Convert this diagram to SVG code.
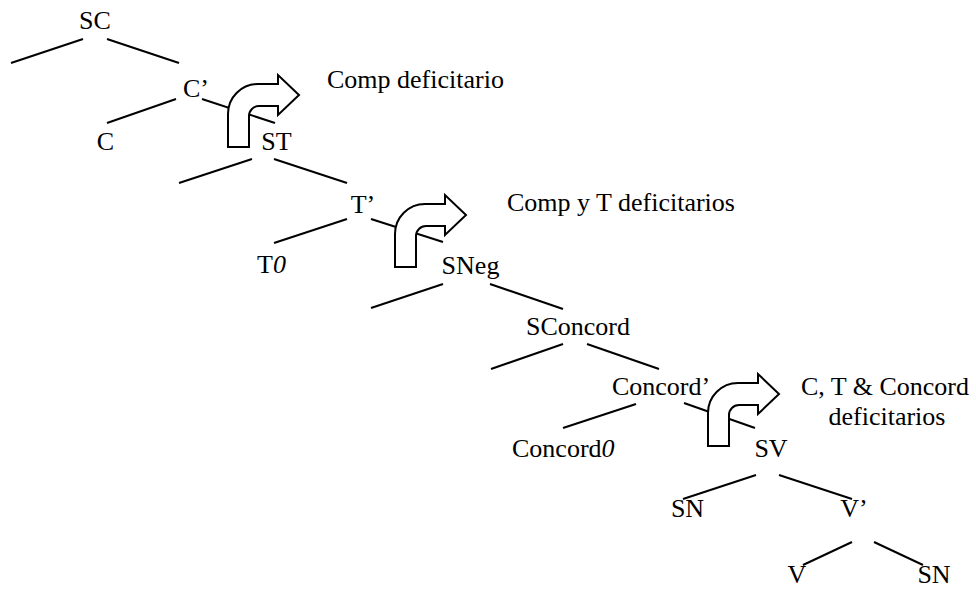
<svg xmlns="http://www.w3.org/2000/svg" width="976" height="590" viewBox="0 0 976 590">
<defs>
<style>
.t{font-family:"Liberation Serif","Times New Roman",serif;font-size:26px;fill:#000}
.m{text-anchor:middle}
.e{stroke:#000;stroke-width:2;fill:none}
.a{fill:#fff;stroke:#000;stroke-width:2;stroke-linejoin:miter}
</style>
<path id="bent" d="M0,0 L0,-33 A30,30 0 0 1 30,-63 L50,-63 L50,-72 L71,-52 L50,-32 L50,-41 L31,-41 A10,10 0 0 0 21,-31 L21,0 Z"/>
</defs>
<rect width="976" height="590" fill="#fff"/>
<g id="connectors" class="e">
<line x1="83" y1="39" x2="11" y2="63"/>
<line x1="107" y1="39" x2="179" y2="63"/>
<line x1="176" y1="99" x2="107" y2="123"/>
<line x1="202" y1="99" x2="275" y2="123"/>
<line x1="252" y1="159" x2="179" y2="183"/>
<line x1="274" y1="159" x2="347" y2="183"/>
<line x1="347" y1="219" x2="274" y2="243"/>
<line x1="371" y1="219" x2="443" y2="242"/>
<line x1="443" y1="284" x2="371" y2="308"/>
<line x1="490" y1="284" x2="563" y2="309"/>
<line x1="563" y1="344" x2="491" y2="369"/>
<line x1="587" y1="344" x2="659" y2="369"/>
<line x1="636" y1="404" x2="563" y2="428"/>
<line x1="684" y1="403" x2="755" y2="428"/>
<line x1="756" y1="475" x2="683" y2="499"/>
<line x1="779" y1="475" x2="852" y2="499"/>
<line x1="852" y1="542" x2="803" y2="565"/>
<line x1="874" y1="542" x2="923" y2="565"/>
</g>
<g id="arrow1"><use href="#bent" class="a" transform="translate(228,147)"/></g>
<g id="arrow2"><use href="#bent" class="a" transform="translate(395,267)"/></g>
<g id="arrow3"><use href="#bent" class="a" transform="translate(708,446)"/></g>
<g id="n-SC"><text class="t m" x="95" y="29">SC</text></g>
<g id="n-Cbar"><text class="t m" x="196" y="97">C’</text></g>
<g id="n-C"><text class="t m" x="105.5" y="150">C</text></g>
<g id="n-ST"><text class="t m" x="276.5" y="150">ST</text></g>
<g id="n-Tbar"><text class="t m" x="363" y="213">T’</text></g>
<g id="n-T0"><text class="t" x="257" y="273">T<tspan font-style="italic">0</tspan></text></g>
<g id="n-SNeg"><text class="t m" x="470.5" y="274">SNeg</text></g>
<g id="n-SConcord"><text class="t m" x="578" y="335">SConcord</text></g>
<g id="n-Concordbar"><text class="t m" x="661" y="395">Concord’</text></g>
<g id="n-Concord0"><text class="t" x="512" y="457">Concord<tspan font-style="italic">0</tspan></text></g>
<g id="n-SV"><text class="t m" x="771" y="457">SV</text></g>
<g id="n-SN1"><text class="t m" x="687.5" y="517">SN</text></g>
<g id="n-Vbar"><text class="t m" x="854" y="517">V’</text></g>
<g id="n-V"><text class="t m" x="797" y="583">V</text></g>
<g id="n-SN2"><text class="t m" x="934" y="583">SN</text></g>
<g id="label1"><text class="t" x="327" y="88">Comp deficitario</text></g>
<g id="label2"><text class="t" x="507" y="211">Comp y T deficitarios</text></g>
<g id="label3"><text class="t m" x="885" y="395">C, T &amp; Concord</text><text class="t m" x="887" y="425">deficitarios</text></g>
</svg>
